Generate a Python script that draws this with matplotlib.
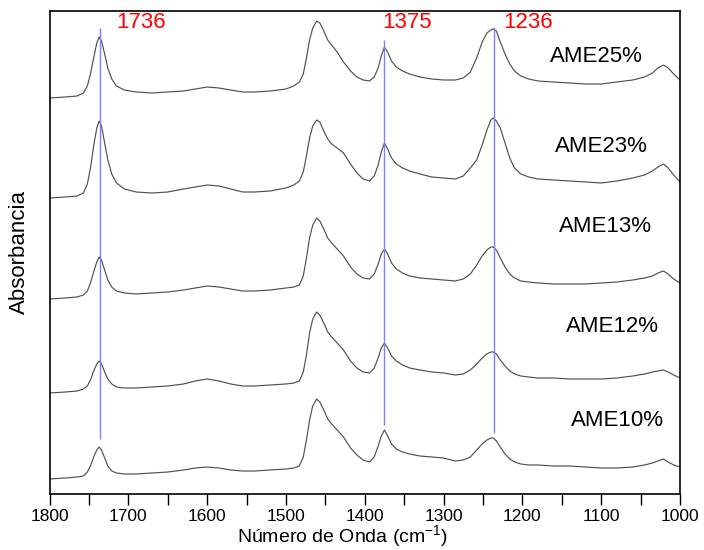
import matplotlib
matplotlib.use("Agg")
import matplotlib.pyplot as plt
from matplotlib.ticker import MultipleLocator

plt.rcParams["font.family"] = ["Liberation Sans", "DejaVu Sans"]
plt.rcParams["mathtext.default"] = "regular"

# Wavenumber grid (cm-1)
wavenumber = [1800, 1780, 1765, 1757, 1752, 1748, 1744, 1740, 1737, 1734, 1730, 1726, 1721, 1715,
              1705, 1690, 1670, 1650, 1630, 1615, 1600, 1585, 1570, 1555, 1540, 1520, 1500, 1490,
              1483, 1478, 1474, 1470, 1466, 1461, 1457, 1452, 1447, 1442, 1435, 1427, 1418, 1410,
              1402, 1394, 1388, 1383, 1379, 1375, 1371, 1366, 1360, 1352, 1343, 1330, 1315, 1300,
              1285, 1275, 1266, 1258, 1251, 1245, 1240, 1237, 1233, 1228, 1222, 1216, 1210, 1202,
              1192, 1180, 1160, 1140, 1120, 1100, 1080, 1060, 1045, 1035, 1028, 1021, 1015, 1008, 1000]

# Stacked absorbance (arbitrary units, vertical offsets included)
ame25 = [396, 397, 398, 401, 408, 420, 436, 451, 457, 453, 440, 426, 415, 408,
         404, 402, 401, 402, 403, 405, 407, 406, 404, 402, 402, 403, 405, 408,
         412, 420, 436, 454, 466, 473, 471, 463, 454, 449, 442, 432, 423, 417,
         414, 413, 417, 426, 438, 447, 442, 433, 427, 423, 420, 417, 415, 414,
         414, 416, 422, 436, 452, 461, 464, 465, 463, 452, 440, 430, 423, 418,
         415, 413, 412, 411, 410, 410, 412, 414, 417, 421, 426, 429, 426, 420, 414]

ame23 = [296, 297, 298, 301, 310, 326, 348, 366, 373, 368, 351, 334, 320, 311,
         305, 302, 301, 302, 305, 307, 309, 308, 305, 302, 302, 303, 306, 309,
         313, 322, 338, 356, 368, 374, 372, 363, 355, 350, 346, 341, 330, 321,
         315, 313, 318, 329, 342, 351, 345, 336, 330, 326, 323, 320, 317, 316,
         315, 318, 326, 334, 349, 364, 374, 376, 373, 366, 351, 336, 326, 320,
         317, 315, 314, 313, 312, 311, 313, 316, 319, 323, 327, 330, 326, 319, 312]

ame13 = [195, 196, 197, 199, 203, 211, 222, 232, 237, 234, 224, 214, 207, 203,
         201, 200, 201, 202, 204, 206, 208, 207, 205, 203, 203, 204, 206, 207,
         209, 218, 236, 256, 269, 276, 273, 265, 256, 251, 245, 238, 227, 220,
         216, 215, 220, 230, 240, 245, 240, 231, 225, 221, 218, 216, 215, 214,
         213, 215, 220, 229, 238, 244, 247, 247, 244, 236, 227, 220, 216, 213,
         212, 211, 210, 210, 210, 211, 212, 214, 216, 218, 221, 223, 220, 215, 211]

ame12 = [101, 102, 103, 105, 108, 114, 123, 130, 133, 130, 122, 115, 110, 107,
         106, 106, 107, 108, 110, 113, 115, 113, 110, 108, 108, 109, 110, 111,
         113, 122, 139, 161, 175, 182, 179, 171, 162, 157, 151, 144, 133, 126,
         122, 121, 126, 136, 146, 151, 146, 138, 133, 129, 126, 124, 122, 121,
         119, 120, 124, 130, 136, 140, 142, 142, 140, 134, 128, 123, 120, 118,
         117, 116, 116, 115, 115, 115, 116, 118, 120, 122, 123, 124, 122, 119, 116]

ame10 = [15, 16, 17, 18, 22, 28, 37, 44, 47, 44, 36, 28, 23, 21,
         20, 20, 21, 22, 24, 26, 27, 26, 24, 23, 23, 24, 25, 26,
         28, 37, 54, 74, 88, 95, 92, 84, 75, 70, 64, 57, 46, 39,
         34, 32, 37, 48, 58, 64, 58, 50, 45, 42, 40, 38, 37, 36,
         33, 34, 37, 44, 50, 54, 56, 56, 53, 47, 40, 35, 32, 30,
         29, 29, 28, 28, 27, 26, 26, 27, 29, 31, 33, 35, 32, 29, 27]

series = [ame25, ame23, ame13, ame12, ame10]
series_labels = ["AME25%", "AME23%", "AME13%", "AME12%", "AME10%"]
label_pos = [(1106, 437), (1100, 347), (1094, 267), (1086, 167), (1079, 74)]

# Marked bands: wavenumber, line span (bottom, top), label anchor
bands = [1736, 1375, 1236]
band_span = [(55, 466), (69, 454), (61, 467)]
band_label_x = [1684, 1346, 1193]

fig = plt.figure(figsize=(7.04, 5.50), dpi=100)
ax = fig.add_axes([49.5 / 704, 56 / 550, 630.5 / 704, 483.5 / 550])

for y in series:
    ax.plot(wavenumber, y, color="#505050", lw=0.85)

for wn, (lo, hi) in zip(bands, band_span):
    ax.vlines(wn, lo, hi, color="#7f7fff", lw=1.0)

for wn, lx in zip(bands, band_label_x):
    ax.text(lx, 471, str(wn), color="#ff0000", fontsize=16, ha="center", va="center")

for lab, (lx, ly) in zip(series_labels, label_pos):
    ax.text(lx, ly, lab, color="black", fontsize=16, ha="center", va="center")

ax.set_xlim(1800, 1000)
ax.set_ylim(0, 483.5)
ax.set_yticks([])
ax.xaxis.set_major_locator(MultipleLocator(100))
ax.xaxis.set_minor_locator(MultipleLocator(50))
ax.tick_params(axis="x", which="both", direction="out", length=8, width=1.0,
               labelsize=12.5, pad=2.5)
for s in ax.spines.values():
    s.set_linewidth(1.2)

ax.set_xlabel("Número de Onda (cm$^{-1}$)", fontsize=14, x=0.464, labelpad=0)
ax.set_ylabel("Absorbancia", fontsize=16, labelpad=14)

fig.savefig("out.png", dpi=100)
